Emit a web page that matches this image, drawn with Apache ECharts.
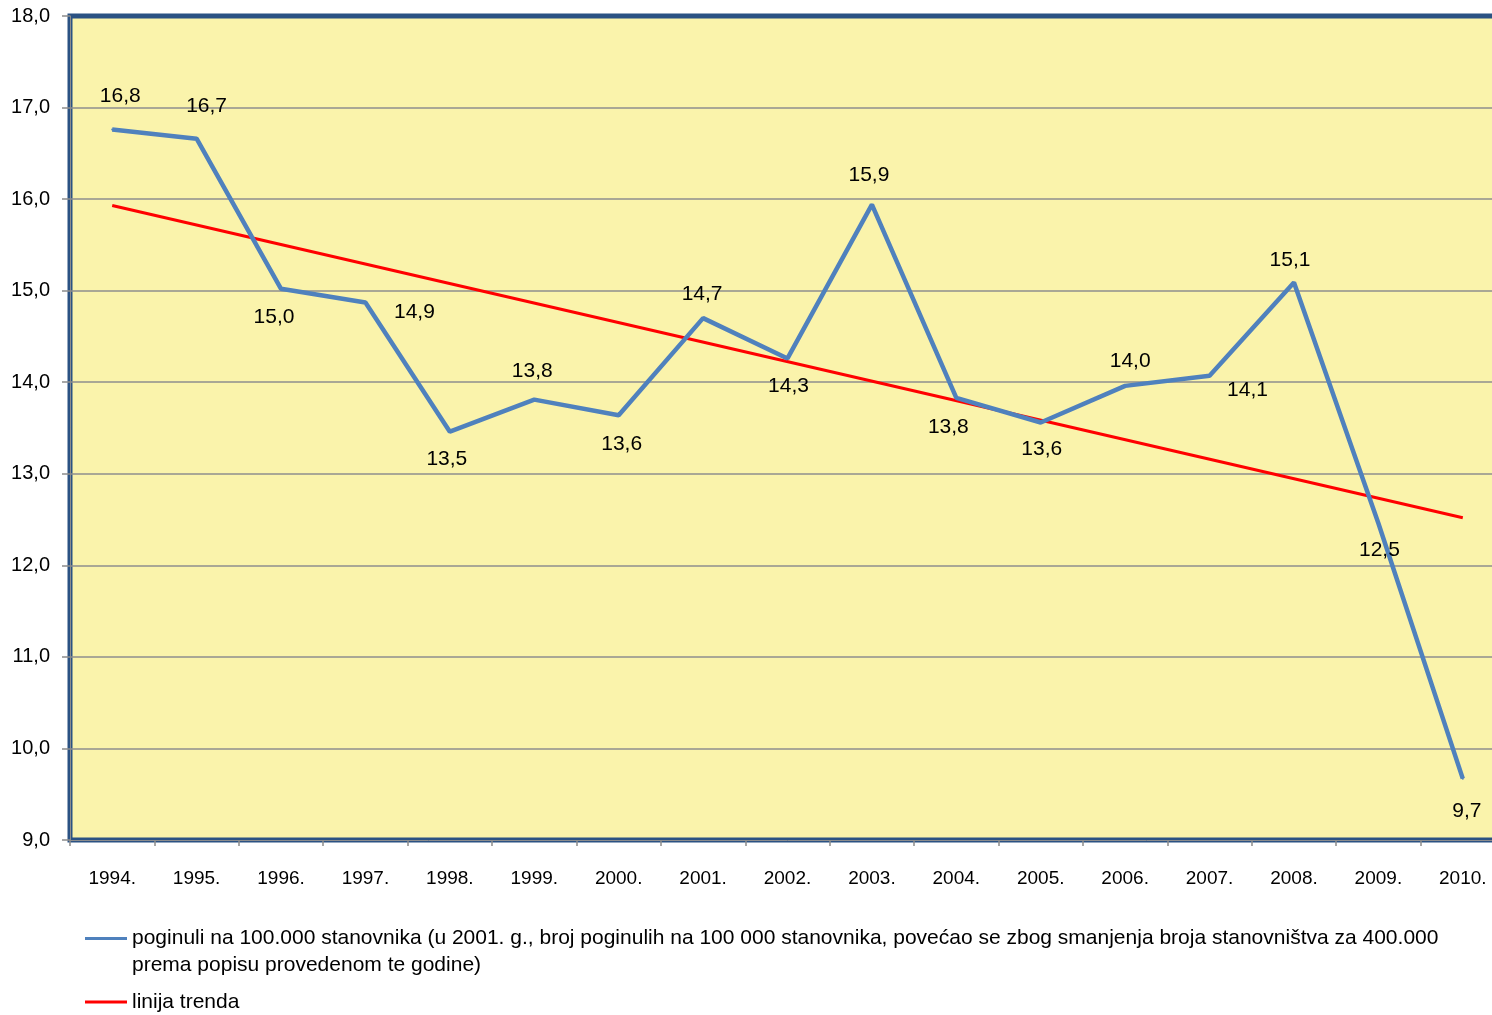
<!DOCTYPE html>
<html>
<head>
<meta charset="utf-8">
<script src="https://cdn.jsdelivr.net/npm/echarts@6/dist/echarts.min.js"></script>
<style>
html, body { margin: 0; padding: 0; background: #fff; overflow: hidden; }
#chart { width: 1505px; height: 1015px; }
</style>
</head>
<body>
<div id="chart"></div>
<script>
// categories
var years = ['1994.', '1995.', '1996.', '1997.', '1998.', '1999.', '2000.', '2001.', '2002.',
             '2003.', '2004.', '2005.', '2006.', '2007.', '2008.', '2009.', '2010.'];
// poginuli na 100.000 stanovnika
var poginuli = [16.76, 16.66, 15.02, 14.87, 13.46, 13.81, 13.64, 14.70, 14.26,
                15.94, 13.83, 13.56, 13.96, 14.07, 15.09, 12.46, 9.67];
// linija trenda, read at the first and last year
var trendYears = ['1994.', '2010.'];
var trendValues = [15.93, 12.52];
// y axis
var yMin = 9, yMax = 18, yStep = 1;

var nameData = 'poginuli na 100.000 stanovnika (u 2001. g., broj poginulih na 100 000 stanovnika, povećao se zbog smanjenja broja stanovništva za 400.000 prema popisu provedenom te godine)';
var nameTrend = 'linija trenda';

// where each value label sits relative to its point
var labelOffsets = [[8,-33],[10,-32],[-7,28],[49,10],[-3,28],[-2,-28],[3,29],[-1,-24],[1,28],
                    [-3,-29],[-8,29],[1,27],[5,-25],[38,14],[-4,-22],[1,27],[4,33]];

var font = 'Liberation Sans, Arial, sans-serif';

function comma(v) {
    return v.toFixed(1).replace('.', ',');
}

// the plot runs a little past the right edge of the page, as in the original
var myChart = echarts.init(document.getElementById('chart'));

var lineData = poginuli.map(function (v, i) {
    return {
        value: v,
        label: { offset: labelOffsets[i] }
    };
});

var option = {
    backgroundColor: '#ffffff',
    animation: false,
    textStyle: { fontFamily: font },
    grid: {
        left: 70,
        top: 16,
        right: 0,
        bottom: 175,
        show: true,
        backgroundColor: '#FAF3AB',
        borderColor: '#2B5283',
        borderWidth: 5
    },
    legend: {
        orient: 'vertical',
        left: 85,
        top: 925,
        padding: 0,
        itemGap: 8,
        itemWidth: 42,
        itemHeight: 30,
        align: 'left',
        selectedMode: false,
        itemStyle: { borderWidth: 0 },
        textStyle: {
            fontFamily: font,
            fontSize: 21,
            lineHeight: 27,
            color: '#000'
        },
        formatter: function (name) {
            return name.replace(' prema popisu', '\nprema popisu');
        },
        data: [
            { name: nameData, icon: 'path://M0,0H42V3H0Z M0,30' },
            { name: nameTrend, icon: 'path://M0,0 M0,13.5H42V16.5H0Z M0,30' }
        ]
    },
    xAxis: {
        type: 'category',
        data: years,
        boundaryGap: true,
        axisLine: { show: true, lineStyle: { color: '#8C8C8C', width: 1 } },
        axisTick: { show: true, length: 6, lineStyle: { color: '#8C8C8C', width: 1.5 } },
        axisLabel: {
            margin: 29,
            fontSize: 19,
            color: '#000',
            fontFamily: font
        },
        splitLine: { show: false }
    },
    yAxis: {
        type: 'value',
        min: yMin,
        max: yMax,
        interval: yStep,
        axisLine: { show: true, lineStyle: { color: '#8C8C8C', width: 1 } },
        axisTick: { show: true, length: 8, lineStyle: { color: '#8C8C8C', width: 1.5 } },
        axisLabel: {
            margin: 20,
            fontSize: 20,
            color: '#000',
            fontFamily: font,
            formatter: function (v) { return comma(v); }
        },
        splitLine: {
            show: true,
            showMinLine: false,
            showMaxLine: false,
            lineStyle: { color: '#8E8E8E', width: 1.5 }
        }
    },
    series: [
        {
            name: nameData,
            type: 'line',
            data: lineData,
            symbol: 'circle',
            symbolSize: 2,
            showAllSymbol: true,
            itemStyle: { color: '#4F81BD' },
            lineStyle: { color: '#4F81BD', width: 4.5 },
            label: {
                show: true,
                position: 'inside',
                color: '#000',
                fontSize: 21,
                fontFamily: font,
                formatter: function (p) { return comma(p.value); }
            },
            z: 3
        },
        {
            name: nameTrend,
            type: 'line',
            data: trendYears.map(function (y, i) { return [y, trendValues[i]]; }),
            symbol: 'none',
            itemStyle: { color: '#FF0000' },
            lineStyle: { color: '#FF0000', width: 3 },
            z: 2
        }
    ]
};

myChart.setOption(option);
</script>
</body>
</html>
